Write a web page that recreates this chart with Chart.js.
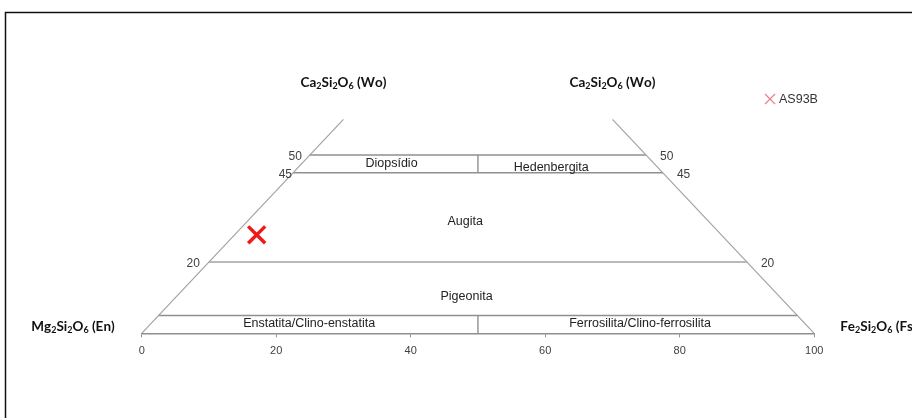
<!DOCTYPE html>
<html lang="pt">
<head>
  <meta charset="UTF-8">
  <title>Piroxênios - AS93B</title>
  <script src="https://cdn.jsdelivr.net/npm/chart.js"></script>
  <style>
    body { margin: 0; background: #fff; }
    #wrap { width: 912px; height: 418px; }
  </style>
</head>
<body>
  <div id="wrap"><canvas id="pxChart" width="912" height="418"></canvas></div>

  <script>
    // Wo-En-Fs quadrilateral, plotted as x = Fs + Wo/2, y = Wo
    const apexWo = 60;
    const woLevels = [5, 20, 45, 50];          // field boundaries (Wo %)
    const dividerRanges = [[0, 5], [45, 50]];  // En = Fs splits
    const edgeTicks = [50, 45, 20];
    const xTickStep = 20;

    const fieldNames = ['Diopsídio', 'Hedenbergita', 'Augita', 'Pigeonita',
                        'Enstatita/Clino-enstatita', 'Ferrosilita/Clino-ferrosilita'];
    const fieldX = [37.15, 60.9, 48.1, 48.3, 24.9, 74.1];
    const fieldWo = [47.5, 46.6, 31.3, 10.3, 2.75, 2.6];

    // sample AS93B (Wo, En, Fs)
    const sampleName = 'AS93B';
    const sampleWo = [27.6];
    const sampleEn = [69.1];
    const sampleFs = [3.3];

    const tx = (wo, fs) => fs + wo / 2;

    const lineGrey = '#a3a3a3';
    const boxGrey = '#8f8f8f';

    function seg(points, color, width) {
      return {
        label: '',
        data: points,
        showLine: true,
        borderColor: color,
        borderWidth: width,
        pointRadius: 0,
        fill: false
      };
    }

    const datasets = [];
    // triangle sides
    datasets.push(seg([{x: tx(0, 0), y: 0}, {x: tx(apexWo, 0), y: apexWo}], lineGrey, 1.2));
    datasets.push(seg([{x: tx(0, 100), y: 0}, {x: tx(apexWo, 100 - apexWo), y: apexWo}], lineGrey, 1.2));
    // horizontal boundaries
    woLevels.forEach(w => {
      datasets.push(seg([{x: tx(w, 0), y: w}, {x: tx(w, 100 - w), y: w}], w === 20 ? lineGrey : boxGrey, 1.4));
    });
    // vertical dividers En = Fs
    dividerRanges.forEach(r => {
      datasets.push(seg([{x: 50, y: r[0]}, {x: 50, y: r[1]}], boxGrey, 1.4));
    });
    // sample
    datasets.push({
      label: sampleName,
      data: sampleWo.map((w, i) => ({x: tx(w, sampleFs[i]), y: w})),
      showLine: false,
      pointStyle: 'crossRot',
      pointRadius: 12,
      pointBorderWidth: 3.5,
      pointBorderColor: '#f01818',
      pointBackgroundColor: '#f01818'
    });

    function chemText(ctx, text, x, y, align) {
      // digits after letters become subscripts
      const parts = [];
      for (let i = 0; i < text.length; i++) {
        const c = text[i];
        const sub = /[0-9]/.test(c) && i > 0 && /[a-zA-Z]/.test(text[i - 1]);
        parts.push([c, sub]);
      }
      const big = 'bold 13.5px Lato';
      const small = 'bold 9px Lato';
      let w = 0;
      parts.forEach(p => { ctx.font = p[1] ? small : big; w += ctx.measureText(p[0]).width; });
      let cx = align === 'right' ? x - w : align === 'center' ? x - w / 2 : x;
      ctx.fillStyle = '#111';
      ctx.textAlign = 'left';
      ctx.textBaseline = 'middle';
      parts.forEach(p => {
        ctx.font = p[1] ? small : big;
        ctx.fillText(p[0], cx, p[1] ? y + 3.5 : y);
        cx += ctx.measureText(p[0]).width;
      });
    }

    const extras = {
      id: 'extras',
      beforeDraw(chart) {
        const ctx = chart.ctx;
        ctx.save();
        ctx.strokeStyle = '#111';
        ctx.lineWidth = 1.5;
        ctx.beginPath();
        ctx.moveTo(5.5, 418);
        ctx.lineTo(5.5, 12.5);
        ctx.lineTo(912, 12.5);
        ctx.stroke();
        ctx.restore();
      },
      afterDraw(chart) {
        const ctx = chart.ctx;
        const xs = chart.scales.x, ys = chart.scales.y;
        ctx.save();

        // field names
        ctx.font = '12.5px "Liberation Sans"';
        ctx.fillStyle = '#222';
        ctx.textAlign = 'center';
        ctx.textBaseline = 'middle';
        fieldNames.forEach((n, i) => {
          ctx.fillText(n, xs.getPixelForValue(fieldX[i]), ys.getPixelForValue(fieldWo[i]));
        });

        // Wo ticks along the sides
        ctx.font = '12px "Liberation Sans"';
        ctx.fillStyle = '#404040';
        const leftDx = {50: -8, 45: -1, 20: -9};
        edgeTicks.forEach(w => {
          const py = ys.getPixelForValue(w);
          ctx.textAlign = 'right';
          ctx.fillText(String(w), xs.getPixelForValue(tx(w, 0)) + leftDx[w], py + 2);
          ctx.textAlign = 'left';
          ctx.fillText(String(w), xs.getPixelForValue(tx(w, 100 - w)) + 14, py + 2);
        });

        // end-member labels
        const topY = ys.getPixelForValue(70.2);
        chemText(ctx, 'Ca2Si2O6 (Wo)', xs.getPixelForValue(tx(apexWo, 0)), topY, 'center');
        chemText(ctx, 'Ca2Si2O6 (Wo)', xs.getPixelForValue(tx(apexWo, 100 - apexWo)), topY, 'center');
        const baseY = ys.getPixelForValue(2);
        chemText(ctx, 'Mg2Si2O6 (En)', xs.getPixelForValue(0) - 27, baseY, 'right');
        chemText(ctx, 'Fe2Si2O6 (Fs)', xs.getPixelForValue(100) + 26, baseY, 'left');

        // legend
        const lx = 770, ly = 99;
        ctx.strokeStyle = '#e8808a';
        ctx.lineWidth = 1.2;
        ctx.beginPath();
        ctx.moveTo(lx - 5, ly - 5); ctx.lineTo(lx + 5, ly + 5);
        ctx.moveTo(lx - 5, ly + 5); ctx.lineTo(lx + 5, ly - 5);
        ctx.stroke();
        ctx.font = '12.5px "Liberation Sans"';
        ctx.fillStyle = '#333';
        ctx.textAlign = 'left';
        ctx.fillText(sampleName, lx + 9, ly + 1);

        ctx.restore();
      }
    };

    new Chart(document.getElementById('pxChart'), {
      type: 'scatter',
      data: { datasets: datasets },
      options: {
        responsive: false,
        devicePixelRatio: 1,
        animation: false,
        layout: { padding: { left: 141.7, right: 97.8, top: 48, bottom: 53.5 } },
        plugins: { legend: { display: false }, tooltip: { enabled: false } },
        scales: {
          x: {
            type: 'linear', min: 0, max: 100,
            ticks: { stepSize: xTickStep, color: '#404040', padding: 7, font: { family: 'Liberation Sans', size: 11 } },
            grid: { drawOnChartArea: false, drawTicks: true, tickLength: 4, color: boxGrey },
            border: { display: true, color: boxGrey, width: 1.4 }
          },
          y: { type: 'linear', min: 0, max: 80, display: false }
        }
      },
      plugins: [extras]
    });
  </script>
</body>
</html>
